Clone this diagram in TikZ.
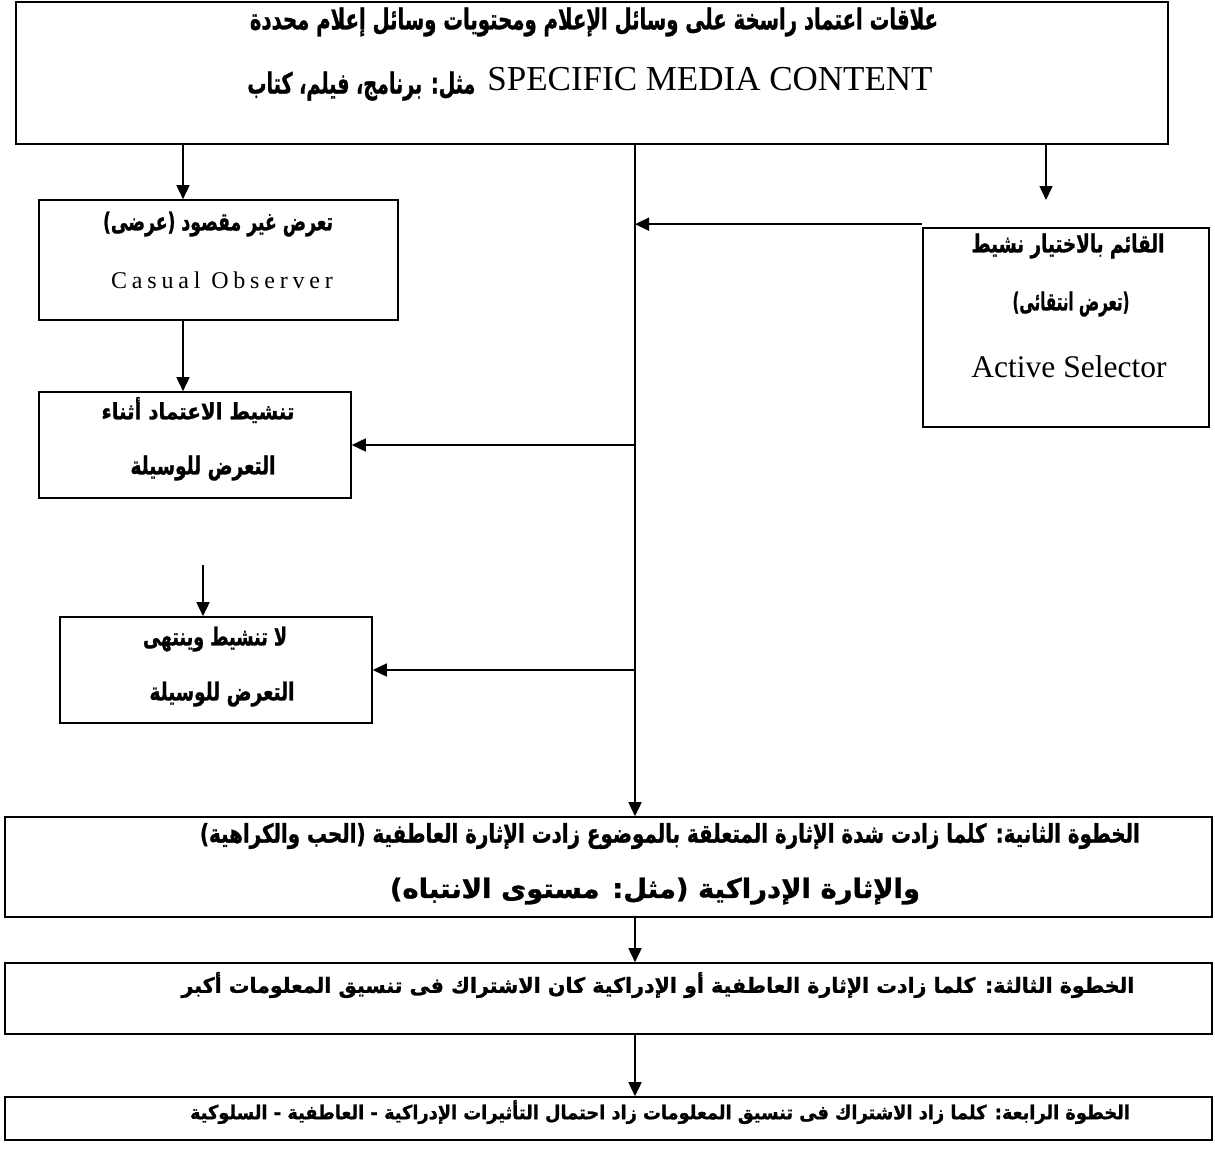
\documentclass[tikz,border=0pt]{standalone}
\usepackage{fontspec}
\usepackage{graphicx}
\setmainfont{Liberation Serif}
\newfontfamily\arabicfont[Script=Arabic, BoldFeatures={FakeBold=1.2}]{DejaVu Sans}
\TeXXeTstate=1
\usetikzlibrary{arrows.meta}
\newcommand\artxt[3]{\resizebox*{#1pt}{#2pt}{\arabicfont\bfseries #3}}
\tikzset{
  box/.style={draw, line width=1.6pt, rectangle, inner sep=0pt},
  txt/.style={inner sep=0pt, anchor=center},
  arr/.style={line width=1.6pt, -{Triangle[length=14pt,width=13pt]}},
}
\begin{document}
\begin{tikzpicture}[x=1pt,y=-1pt]
\path[use as bounding box] (0,0) rectangle (1215,1156);
% boxes
\node[box, minimum width=1152pt, minimum height=142pt] (top) at (592,73) {};
\node[box, minimum width=359pt, minimum height=120pt] (casual) at (218.5,260) {};
\node[box, minimum width=286pt, minimum height=199pt] (active) at (1066,327.5) {};
\node[box, minimum width=312pt, minimum height=106pt] (activ) at (195,445) {};
\node[box, minimum width=312pt, minimum height=106pt] (noact) at (216,670) {};
\node[box, minimum width=1207pt, minimum height=100pt] (step2) at (608.5,867) {};
\node[box, minimum width=1207pt, minimum height=71pt] (step3) at (608.5,998.5) {};
\node[box, minimum width=1207pt, minimum height=43pt] (step4) at (608.5,1118.5) {};
% texts
\node[txt] (t1) at (594,22) {\artxt{688}{29}{\beginR علاقات اعتماد راسخة على وسائل الإعلام ومحتويات وسائل إعلام محددة\endR}};
\node[txt] (t2) at (590,84) {\raisebox{-3pt}{\artxt{228}{29}{\beginR مثل: برنامج، فيلم، كتاب\endR}}\hspace{12pt}{\fontsize{35}{40}\selectfont SPECIFIC MEDIA CONTENT}};
\node[txt] (c1) at (218,224) {\artxt{230}{25}{\beginR تعرض غير مقصود (عرضى)\endR}};
\node[txt] (c2) at (222,280) {\addfontfeature{LetterSpace=20}\fontsize{24}{28}\selectfont Casual Observer};
\node[txt] (a1) at (1068,246) {\artxt{193}{25}{\beginR القائم بالاختيار نشيط\endR}};
\node[txt] (a2) at (1071,304) {\artxt{117}{25}{\beginR (تعرض انتقائى)\endR}};
\node[txt] (a3) at (1069,367) {\fontsize{31.5}{36}\selectfont Active Selector};
\node[txt] (v1) at (198,410) {\artxt{193}{26}{\beginR تنشيط الاعتماد أثناء\endR}};
\node[txt] (v2) at (203,468) {\artxt{145}{25}{\beginR التعرض للوسيلة\endR}};
\node[txt] (n1) at (215,639) {\artxt{144}{25}{\beginR لا تنشيط وينتهى\endR}};
\node[txt] (n2) at (222,694) {\artxt{145}{25}{\beginR التعرض للوسيلة\endR}};
\node[txt] (s21) at (670,836) {\artxt{940}{26}{\beginR الخطوة الثانية: كلما زادت شدة الإثارة المتعلقة بالموضوع زادت الإثارة العاطفية (الحب والكراهية)\endR}};
\node[txt] (s22) at (655,891) {\artxt{530}{27}{\beginR والإثارة الإدراكية (مثل: مستوى الانتباه)\endR}};
\node[txt] (s3) at (658,985) {\artxt{953}{26}{\beginR الخطوة الثالثة: كلما زادت الإثارة العاطفية أو الإدراكية كان الاشتراك فى تنسيق المعلومات أكبر\endR}};
\node[txt] (s4) at (660,1112) {\artxt{940}{24}{\beginR الخطوة الرابعة: كلما زاد الاشتراك فى تنسيق المعلومات زاد احتمال التأثيرات الإدراكية - العاطفية - السلوكية\endR}};
% connectors
\coordinate (trunk) at (635,144);
\coordinate (lt) at (183,144);
\coordinate (rtop) at (1046,144);
\coordinate (rend) at (1046,200);
\coordinate (free) at (203,565);
\draw[arr] (lt) -- (lt |- casual.north);
\draw[arr] (rtop) -- (rend);
\draw[arr] (trunk) -- (trunk |- step2.north);
\draw[arr] ([yshift=3pt]active.north west) -- ([yshift=3pt]active.north west -| trunk);
\draw[arr] (activ.east -| trunk) -- (activ.east);
\draw[arr] (noact.east -| trunk) -- (noact.east);
\draw[arr] (casual.south -| lt) -- (lt |- activ.north);
\draw[arr] (free) -- (free |- noact.north);
\draw[arr] (step2.south -| trunk) -- (step3.north -| trunk);
\draw[arr] (step3.south -| trunk) -- (step4.north -| trunk);
\end{tikzpicture}
\end{document}
